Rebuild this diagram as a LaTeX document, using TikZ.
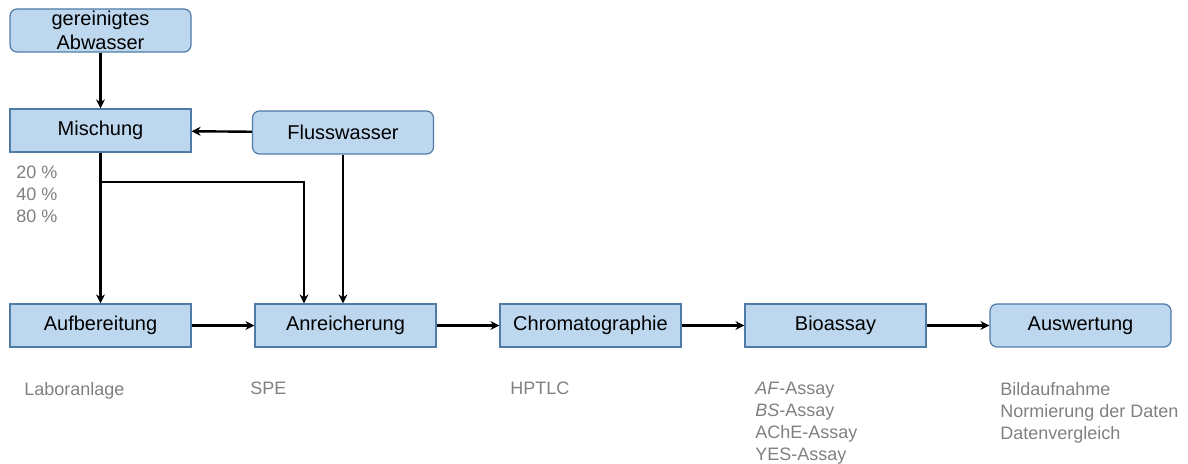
\documentclass[tikz,border=0pt]{standalone}
\usepackage{fontspec}
\setmainfont{Liberation Sans}
\usetikzlibrary{arrows.meta,calc,positioning}
\definecolor{boxfill}{HTML}{BDD7EE}
\definecolor{boxline}{HTML}{4F7BA6}
\definecolor{notegray}{HTML}{808080}
\begin{document}
\begin{tikzpicture}[x=0.5pt,y=-0.5pt,>={Stealth[length=4.5pt,width=4.5pt]},
  stepbox/.style={draw=boxline,fill=boxfill,line width=0.6pt,minimum width=90.5pt,
    minimum height=21.5pt,inner sep=0pt,font=\fontsize{10}{12}\selectfont,align=center},
  roundbox/.style={stepbox,rounded corners=3.5pt},
  note/.style={text=notegray,anchor=north west,inner sep=0pt,align=left,
    font=\fontsize{9}{11}\selectfont},
  flow/.style={->,line width=1.2pt}]
\useasboundingbox (0,0) rectangle (1188,464);
% sources
\node[roundbox] (abw) at (100.5,30.5) {gereinigtes\\Abwasser};
\node[stepbox] (misch) at (100.5,130.5) {Mischung};
\node[roundbox] (fluss) at (343,132.5) {Flusswasser};
% process chain
\node[stepbox] (aufb) at (100.5,325.5) {Aufbereitung};
\node[stepbox] (anr) at (345.5,325.5) {Anreicherung};
\node[stepbox] (chrom) at (590.5,325.5) {Chromatographie};
\node[stepbox] (bio) at (835.5,325.5) {Bioassay};
\node[roundbox] (ausw) at (1080.5,325.5) {Auswertung};
% connectors
\draw[flow] (abw) -- (misch);
\draw[flow] (fluss) -- (misch);
\draw[flow] (misch) -- (aufb);
\coordinate (split) at (100.5,182);
\draw[flow] (split) -| ($(anr.north)+(-41.5,0)$);
\draw[flow] (fluss.south) -- (fluss.south |- anr.north);
\foreach \a/\b in {aufb/anr,anr/chrom,chrom/bio,bio/ausw}
  \draw[flow] (\a) -- (\b);
% notes
\node[note] (anteil) at (16,166) {20 \%\\40 \%\\80 \%};
\node[note] (labor) at (24,382) {Laboranlage};
\node[note] (spe) at (250,382) {SPE};
\node[note] (hptlc) at (510,382) {HPTLC};
\node[note] (tests) at (755,382) {\textit{AF}-Assay\\\textit{BS}-Assay\\AChE-Assay\\YES-Assay};
\node[note] (daten) at (1000,382) {Bildaufnahme\\Normierung der Daten\\Datenvergleich};
\end{tikzpicture}
\end{document}
